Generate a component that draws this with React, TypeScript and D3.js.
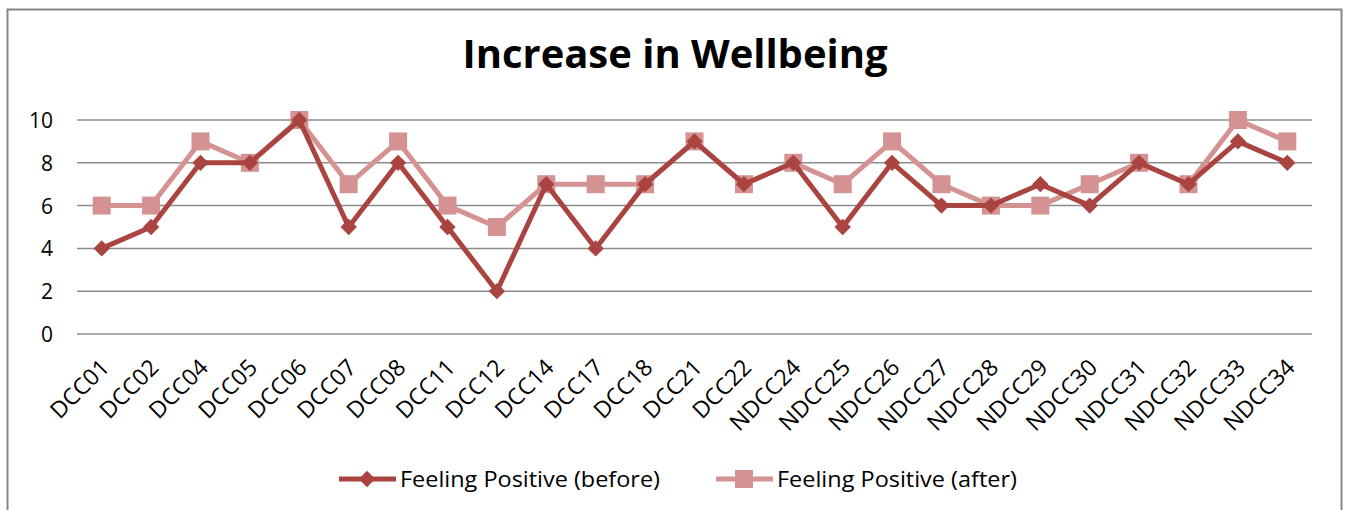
import React, { useEffect, useRef } from "react"
import * as d3 from "d3"

const categories = [
  "DCC01", "DCC02", "DCC04", "DCC05", "DCC06", "DCC07", "DCC08", "DCC11", "DCC12",
  "DCC14", "DCC17", "DCC18", "DCC21", "DCC22", "NDCC24", "NDCC25", "NDCC26", "NDCC27",
  "NDCC28", "NDCC29", "NDCC30", "NDCC31", "NDCC32", "NDCC33", "NDCC34",
]
const before = [4, 5, 8, 8, 10, 5, 8, 5, 2, 7, 4, 7, 9, 7, 8, 5, 8, 6, 6, 7, 6, 8, 7, 9, 8]
const after = [6, 6, 9, 8, 10, 7, 9, 6, 5, 7, 7, 7, 9, 7, 8, 7, 9, 7, 6, 6, 7, 8, 7, 10, 9]
const yTicks = [0, 2, 4, 6, 8, 10]
const seriesNames = ["Feeling Positive (before)", "Feeling Positive (after)"]

const W = 1346
const H = 510
const FONT = "'Open Sans', sans-serif"
const DARK = "#A94441"
const LIGHT = "#D49392"

export default function App() {
  const svgRef = useRef<SVGSVGElement>(null)

  useEffect(() => {
    const svg = d3.select(svgRef.current)
    svg.selectAll("*").remove()

    // chart frame
    svg.append("rect")
      .attr("x", 7.5).attr("y", 9.5)
      .attr("width", 1334).attr("height", 520)
      .attr("fill", "#fff").attr("stroke", "#868686").attr("stroke-width", 2)

    svg.append("text")
      .attr("x", 675).attr("y", 68)
      .attr("text-anchor", "middle")
      .attr("font-family", FONT).attr("font-weight", "bold").attr("font-size", 39)
      .attr("textLength", 425).attr("lengthAdjust", "spacingAndGlyphs")
      .text("Increase in Wellbeing")

    const plotLeft = 77, plotRight = 1312
    const x = d3.scalePoint().domain(categories).range([plotLeft, plotRight]).padding(0.5)
    const y = d3.scaleLinear().domain([0, 10]).range([334, 120])

    // gridlines
    svg.append("g").selectAll("line").data(yTicks).enter().append("line")
      .attr("x1", plotLeft).attr("x2", plotRight)
      .attr("y1", d => y(d)).attr("y2", d => y(d))
      .attr("stroke", "#8c8c8c").attr("stroke-width", 1.5)

    svg.append("g").selectAll("text").data(yTicks).enter().append("text")
      .attr("x", 53).attr("y", d => y(d) + 8)
      .attr("text-anchor", "end")
      .attr("font-family", FONT).attr("font-size", 21)
      .text(d => d)

    // x labels rotated
    svg.append("g").selectAll("text").data(categories).enter().append("text")
      .attr("transform", d => `translate(${(x(d) as number) + 9},${369}) rotate(-45)`)
      .attr("text-anchor", "end")
      .attr("font-family", FONT).attr("font-size", 23)
      .text(d => d)

    const line = d3.line<number>()
      .x((_, i) => x(categories[i]) as number)
      .y(d => y(d))

    // after series (drawn first, behind)
    svg.append("path").datum(after)
      .attr("d", line).attr("fill", "none")
      .attr("stroke", LIGHT).attr("stroke-width", 5).attr("stroke-linejoin", "round")
    svg.append("g").selectAll("rect").data(after).enter().append("rect")
      .attr("x", (_, i) => (x(categories[i]) as number) - 9)
      .attr("y", d => y(d) - 9)
      .attr("width", 18).attr("height", 18)
      .attr("fill", LIGHT)

    svg.append("path").datum(before)
      .attr("d", line).attr("fill", "none")
      .attr("stroke", DARK).attr("stroke-width", 5).attr("stroke-linejoin", "round")
    const diamond = d3.symbol().type(d3.symbolDiamond2).size(170)
    svg.append("g").selectAll("path").data(before).enter().append("path")
      .attr("d", diamond)
      .attr("transform", (d, i) => `translate(${x(categories[i])},${y(d)})`)
      .attr("fill", DARK)

    // legend
    const legend = [
      { name: seriesNames[0], color: DARK, x0: 339, width: 260, marker: "diamond" },
      { name: seriesNames[1], color: LIGHT, x0: 716, width: 240, marker: "square" },
    ]
    const ly = 479
    legend.forEach(l => {
      svg.append("line")
        .attr("x1", l.x0).attr("x2", l.x0 + 57)
        .attr("y1", ly).attr("y2", ly)
        .attr("stroke", l.color).attr("stroke-width", 5)
      const cx = l.x0 + 28
      if (l.marker === "diamond") {
        svg.append("path").attr("d", diamond)
          .attr("transform", `translate(${cx},${ly})`).attr("fill", l.color)
      } else {
        svg.append("rect").attr("x", cx - 9).attr("y", ly - 9)
          .attr("width", 18).attr("height", 18).attr("fill", l.color)
      }
      svg.append("text")
        .attr("x", l.x0 + 61).attr("y", ly + 8)
        .attr("font-family", FONT).attr("font-size", 21)
        .attr("textLength", l.width).attr("lengthAdjust", "spacingAndGlyphs")
        .text(l.name)
    })
  })

  return (
    <svg ref={svgRef} width={W} height={H} style={{ display: "block", position: "absolute", left: 0, top: 0 }}></svg>
  )
}
